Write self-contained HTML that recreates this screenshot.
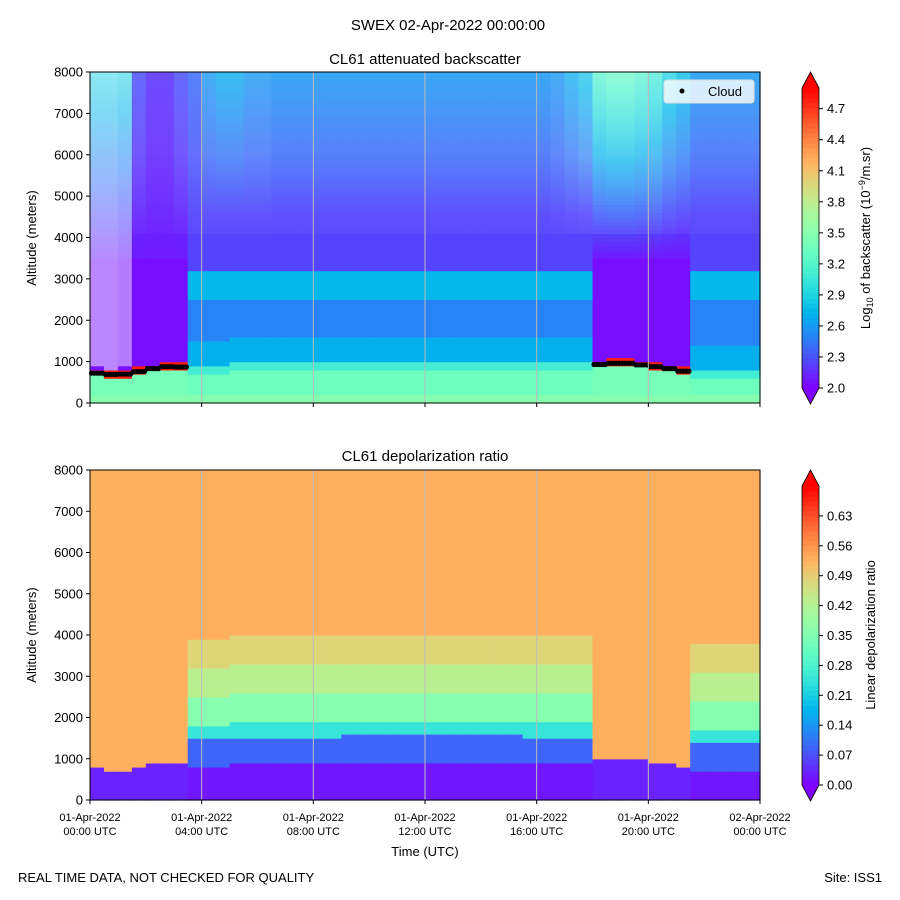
<!DOCTYPE html>
<html><head><meta charset="utf-8"><style>
body{margin:0;background:#fff}
svg{display:block;font-family:"Liberation Sans",sans-serif}
</style></head><body>
<svg id="s" width="900" height="900" xmlns="http://www.w3.org/2000/svg">
<rect width="900" height="900" fill="#fff"/>
<text x="448" y="30" font-size="15" text-anchor="middle">SWEX 02-Apr-2022 00:00:00</text>
<text x="425" y="64" font-size="15" text-anchor="middle">CL61 attenuated backscatter</text>
<text x="425" y="461" font-size="15" text-anchor="middle">CL61 depolarization ratio</text>
<g id="hm1"></g>
<g id="hm2"></g>
<g id="ax"></g>
<text x="18" y="882" font-size="13">REAL TIME DATA, NOT CHECKED FOR QUALITY</text>
<text x="882" y="882" font-size="13" text-anchor="end">Site: ISS1</text>
<text x="425" y="856" font-size="13" text-anchor="middle">Time (UTC)</text>
<text transform="translate(36,238) rotate(-90)" font-size="13" text-anchor="middle">Altitude (meters)</text>
<text transform="translate(36,635) rotate(-90)" font-size="13" text-anchor="middle">Altitude (meters)</text>
<text transform="translate(870,238) rotate(-90)" font-size="13" text-anchor="middle">Log<tspan font-size="9" dy="3">10</tspan><tspan dy="-3"> of backscatter (10</tspan><tspan font-size="9" dy="-5">−9</tspan><tspan dy="5">/m.sr)</tspan></text>
<text transform="translate(875,635) rotate(-90)" font-size="13" text-anchor="middle">Linear depolarization ratio</text>
</svg>
<script>
// 30-minute time bins (hours)
const times=[0,0.5,1,1.5,2,2.5,3,3.5,4,4.5,5,5.5,6,6.5,7,7.5,8,8.5,9,9.5,10,10.5,11,11.5,12,12.5,13,13.5,14,14.5,15,15.5,16,16.5,17,17.5,18,18.5,19,19.5,20,20.5,21,21.5,22,22.5,23,23.5];
const cloudBase=[720,690,700,760,830,880,870,0,0,0,0,0,0,0,0,0,0,0,0,0,0,0,0,0,0,0,0,0,0,0,0,0,0,0,0,0,930,960,960,920,880,830,770,0,0,0,0,0];
const blTop=[700,700,700,750,800,850,880,900,900,900,950,950,950,950,950,950,950,950,1000,1000,1000,1000,1000,1000,1000,1000,1000,1000,1000,1000,1000,950,950,950,950,950,950,950,950,950,900,850,800,800,800,800,800,800];
const upperVal=[2.9,2.9,2.9,2.3,2.2,2.2,2.3,2.4,2.6,2.7,2.7,2.6,2.6,2.6,2.6,2.6,2.6,2.6,2.6,2.6,2.6,2.6,2.6,2.6,2.6,2.6,2.6,2.6,2.6,2.6,2.6,2.6,2.6,2.6,2.7,2.8,3.2,3.3,3.3,3.2,3.1,2.9,2.8,2.6,2.6,2.6,2.6,2.6];
const whiteFrac=[0.5,0.5,0.45,0.15,0.1,0.1,0.15,0.15,0.2,0.2,0.2,0.2,0.2,0.15,0.15,0.15,0.15,0.15,0.15,0.15,0.15,0.15,0.15,0.15,0.15,0.15,0.15,0.15,0.15,0.15,0.15,0.15,0.15,0.2,0.25,0.3,0.3,0.3,0.3,0.3,0.3,0.25,0.2,0.15,0.15,0.15,0.15,0.15];
const bsTicks=[2.0,2.3,2.6,2.9,3.2,3.5,3.8,4.1,4.4,4.7];
const dpTicks=[0.00,0.07,0.14,0.21,0.28,0.35,0.42,0.49,0.56,0.63];
const altTicks=[0,1000,2000,3000,4000,5000,6000,7000,8000];
const timeTicks=[["01-Apr-2022","00:00 UTC"],["01-Apr-2022","04:00 UTC"],["01-Apr-2022","08:00 UTC"],["01-Apr-2022","12:00 UTC"],["01-Apr-2022","16:00 UTC"],["01-Apr-2022","20:00 UTC"],["02-Apr-2022","00:00 UTC"]];

const NS="http://www.w3.org/2000/svg";
function rainbow(x){x=Math.max(0,Math.min(1,x));
 const r=Math.min(1,Math.abs(2*x-0.5)),g=Math.sin(Math.PI*x),b=Math.cos(Math.PI*x/2);
 return [r*255,g*255,b*255];}
function css(c){return `rgb(${c.map(v=>Math.round(v)).join(',')})`;}
function mk(tag,attrs,parent){const e=document.createElementNS(NS,tag);for(const k in attrs)e.setAttribute(k,attrs[k]);parent.appendChild(e);return e;}
const X0=90,X1=760;
const xs=h=>X0+h/24*(X1-X0);
const yTop=a=>403-a/8000*331;
const yBot=a=>800-a/8000*330;

function bsVal(c,a){
 const cb=cloudBase[c],bl=blTop[c];
 if(cb>0){
  if(a>=cb-100&&a<cb+50)return 4.8;
  if(a<cb)return a<150?3.5:3.4;
  if(a<3500)return 2.05;
  return 2.1+(upperVal[c]-2.1)*(a-3500)/4500;
 }
 if(a<bl-200)return a<150?3.5:3.35;
 if(a<bl)return 3.1;
 if(a<bl+600)return 2.7;
 if(a<2500)return 2.5;
 if(a<3200)return 2.75;
 if(a<4500)return 2.25;
 return 2.25+(upperVal[c]-2.25)*(a-4500)/3500;
}
function dpVal(c,a){
 const cb=cloudBase[c],bl=blTop[c];
 if(cb>0){ if(a<cb)return 0.03; return 0.53; }
 if(a<bl-100)return 0.02;
 const d=a-bl;
 if(d<550)return 0.09;
 if(d<900)return 0.25;
 if(d<1600)return 0.36;
 if(d<2300)return 0.43;
 if(d<3000)return 0.48;
 return 0.53;
}
const hm1=document.getElementById('hm1'),hm2=document.getElementById('hm2');
const cw=(X1-X0)/times.length;
for(let c=0;c<times.length;c++){
 for(let a=0;a<8000;a+=100){
  let v=bsVal(c,a);
  let col=rainbow((v-2)/2.9);
  let w=0;
  if(a>4000)w=whiteFrac[c]*Math.min(1,(a-3500)/2500);
  if(cloudBase[c]>0&&a>cloudBase[c]+100&&whiteFrac[c]>0.4)w=whiteFrac[c];
  col=col.map(x=>x*(1-w)+255*w);
  const r=mk('rect',{x:xs(times[c]),y:yTop(a+100),width:cw+0.6,height:331/80+0.6,fill:css(col)},hm1);
  
  
  const d=dpVal(c,a);
  const r2=mk('rect',{x:xs(times[c]),y:yBot(a+100),width:cw+0.6,height:330/80+0.6,fill:css(rainbow(d/0.7))},hm2);
  
  
 }
}
// cloud markers
for(let c=0;c<times.length;c++){
 if(cloudBase[c]>0){
  for(let k=0;k<5;k++){
   const p=mk('circle',{cx:xs(times[c])+k*cw/5+1.5,cy:yTop(cloudBase[c]),r:2.6,fill:'#000'},hm1);
   
   
  }
 }
}
const ax=document.getElementById('ax');
for(let i=1;i<6;i++){
 const x=xs(i*4);
 mk('line',{x1:x,x2:x,y1:72,y2:403,stroke:'#bbb','stroke-width':1},ax);
 mk('line',{x1:x,x2:x,y1:470,y2:800,stroke:'#bbb','stroke-width':1},ax);
}
[[72,403,yTop],[470,800,yBot]].forEach(([t,b,yf],pi)=>{
 mk('rect',{x:X0,y:t,width:X1-X0,height:b-t,fill:'none',stroke:'#000','stroke-width':1},ax);
 altTicks.forEach(v=>{const y=yf(v);
  mk('line',{x1:X0-4,x2:X0,y1:y,y2:y,stroke:'#000'},ax);
  const tx=mk('text',{x:X0-7,y:y+4.5,'font-size':13,'text-anchor':'end'},ax);tx.textContent=v;
  
  
 });
 timeTicks.forEach((lab,i)=>{const x=xs(i*4);
  mk('line',{x1:x,x2:x,y1:b,y2:b+4,stroke:'#000'},ax);
  if(pi===1){lab.forEach((s,j)=>{const tx=mk('text',{x:x,y:821+j*14,'font-size':11,'text-anchor':'middle'},ax);tx.textContent=s;
   
   });}
 });
});
function colorbar(top,bodyTop,bodyBot,bot,vmin,vmax,ticks,fmt,name){
 const g=mk('g',{},ax);
 
 
 const N=60,h=(bodyBot-bodyTop)/N;
 for(let i=0;i<N;i++){const v=(i+0.5)/N;
  mk('rect',{x:802,y:bodyBot-(i+1)*h,width:17,height:h+0.5,fill:css(rainbow(v))},g);}
 mk('polygon',{points:`802,${bodyTop} 819,${bodyTop} 810.5,${top}`,fill:css(rainbow(1))},g);
 mk('polygon',{points:`802,${bodyBot} 819,${bodyBot} 810.5,${bot}`,fill:css(rainbow(0))},g);
 mk('polygon',{points:`802,${bodyBot} 802,${bodyTop} 810.5,${top} 819,${bodyTop} 819,${bodyBot} 810.5,${bot}`,fill:'none',stroke:'#000','stroke-width':0.8},g);
 ticks.forEach(v=>{const y=bodyBot-(v-vmin)/(vmax-vmin)*(bodyBot-bodyTop);
  mk('line',{x1:819,x2:823,y1:y,y2:y,stroke:'#000'},g);
  const tx=mk('text',{x:827,y:y+4.5,'font-size':13},g);tx.textContent=v.toFixed(fmt);
  
  });
}
colorbar(72,88,388,404,2.0,4.9,bsTicks,1,'backscatter-colorbar');
colorbar(470,486,785,801,0,0.7,dpTicks,2,'depol-colorbar');
const lg=mk('g',{},ax);


mk('rect',{x:664,y:80,width:90,height:23,rx:3,fill:'#fff','fill-opacity':0.8,stroke:'#ddd'},lg);
mk('circle',{cx:682,cy:91,r:2.5,fill:'#000'},lg);
const lt=mk('text',{x:708,y:96,'font-size':13},lg);lt.textContent='Cloud';


</script>
</body></html>
